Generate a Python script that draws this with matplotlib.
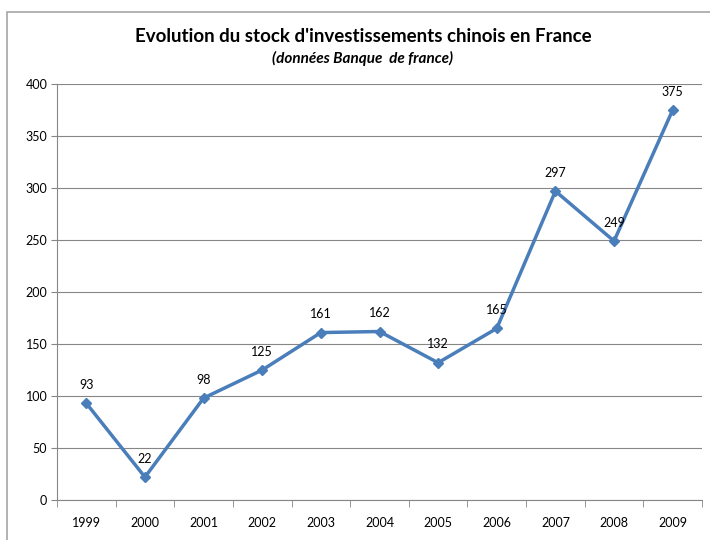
import matplotlib.pyplot as plt
from matplotlib.patches import Rectangle

plt.rcParams['font.family'] = ['Lato', 'DejaVu Sans']

# Data
years = ['1999', '2000', '2001', '2002', '2003', '2004', '2005', '2006', '2007', '2008', '2009']
stock = [93, 22, 98, 125, 161, 162, 132, 165, 297, 249, 375]

fig = plt.figure(figsize=(7.1, 5.4), dpi=100)

# outer chart frame (Excel style)
fig.patches.append(Rectangle((7 / 710, -0.1), 1.2, 1 - 12 / 540 + 0.1, transform=fig.transFigure,
                             fill=False, edgecolor='#a6a6a6', linewidth=1.2))

ax = fig.add_axes([57 / 710, 1 - 500 / 540, (702 - 57) / 710, (500 - 84) / 540])

x = list(range(len(years)))
ax.plot(x, stock, color='#4a7ebb', linewidth=2.5, marker='D', markersize=5.5)
for xi, v in zip(x, stock):
    ax.annotate(str(v), (xi, v), xytext=(0, 9), textcoords='offset points',
                ha='center', va='bottom', fontsize=9)

ax.set_xlim(-0.5, len(years) - 0.5)
ax.set_ylim(0, 400)
ax.set_yticks(range(0, 401, 50))
ax.set_xticks(x)
ax.set_xticklabels(years)
# tick marks between categories
ax.set_xticks([i - 0.5 for i in range(len(years) + 1)], minor=True)
ax.tick_params(axis='x', which='major', length=0, pad=12, labelsize=9)
ax.tick_params(axis='x', which='minor', length=5, color='#868686')
ax.tick_params(axis='y', length=4, color='#868686', labelsize=9, pad=3)

ax.grid(axis='y', color='#868686', linewidth=0.8)
ax.set_axisbelow(True)
for s in ['top', 'right']:
    ax.spines[s].set_visible(False)
for s in ['left', 'bottom']:
    ax.spines[s].set_color('#868686')

fig.text(363 / 710, 1 - 36 / 540, "Evolution du stock d'investissements chinois en France",
         ha='center', va='center', fontsize=13.5, fontweight='bold')
fig.text(362 / 710, 1 - 58 / 540, "(données Banque  de france)",
         ha='center', va='center', fontsize=11, fontweight='bold', style='italic')

fig.savefig('out.png', dpi=100)
